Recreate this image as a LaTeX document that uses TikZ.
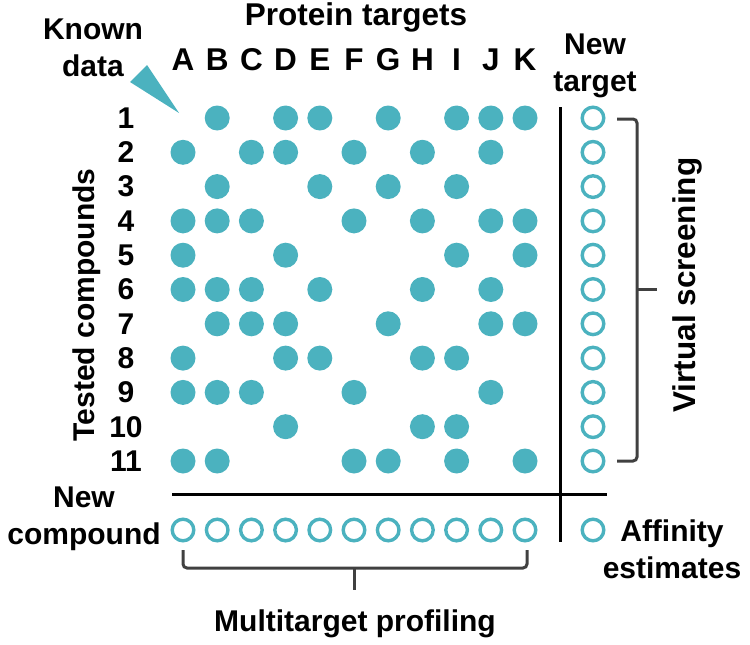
\documentclass[tikz,border=0pt]{standalone}
\usepackage{fontspec}
\setmainfont{Liberation Sans}
\usetikzlibrary{positioning,calc}
\definecolor{hitcol}{HTML}{4BB2BF}
\definecolor{bracecol}{HTML}{404040}
\tikzset{
  hitdot/.style={circle, fill=hitcol, minimum size=25pt, inner sep=0pt},
  opendot/.style={circle, draw=hitcol, line width=3.4pt, minimum size=21.6pt, inner sep=0pt},
  lbl/.style={inner sep=0pt, font=\bfseries\fontsize{30}{37}\selectfont},
  biglbl/.style={inner sep=0pt, font=\bfseries\fontsize{31.5}{37}\selectfont},
  rule/.style={line width=3pt},
  brace/.style={draw=bracecol, line width=3pt, rounded corners=4pt}
}

\begin{document}
\begin{tikzpicture}[x=1pt,y=-1pt]
\useasboundingbox (0,0) rectangle (750,645);
% known data matrix
\foreach \r/\cols in {1/{2,4,5,7,9,10,11},2/{1,3,4,6,8,10},3/{2,5,7,9},4/{1,2,3,6,8,10,11},5/{1,4,9,11},6/{1,2,3,5,8,10},7/{2,3,4,7,10,11},8/{1,4,5,8,9},9/{1,2,3,6,10},10/{4,8,9},11/{1,2,6,7,9,11}} {
  \foreach \c in \cols {
    \node[hitdot] (dot-\r-\c) at ({183+34.2*(\c-1)},{118+34.3*(\r-1)}) {};
  }
}
\foreach \l [count=\c] in {A,B,C,D,E,F,G,H,I,J,K}
  \node[biglbl] (col-\l) at ({183+34.2*(\c-1)},60) {\l};
\foreach \r in {1,...,11}
  \node[lbl] (row-\r) at (126,{118+34.3*(\r-1)}) {\r};
% new target and new compound
\foreach \r in {1,...,11}
  \node[opendot] (tgt-\r) at (593,{118+34.3*(\r-1)}) {};
\foreach \c in {1,...,11}
  \node[opendot] (cmp-\c) at ({183+34.2*(\c-1)},530) {};
\node[opendot] (aff) at (593,530) {};
% separators
\coordinate (vtop) at (560,107);
\coordinate (vbot) at (560,542);
\coordinate (hleft) at (172,494);
\coordinate (hright) at (607,494);
\draw[rule] (vtop) -- (vbot);
\draw[rule] (hleft) -- (hright);
% brackets
\draw[brace] ($(tgt-1)+(24,1)$) -| ($(tgt-11)+(44,0)$) -- ($(tgt-11)+(24,0)$);
\draw[brace] ($(tgt-6)+(44,0)$) -- ++(20,0);
\draw[brace] ($(cmp-1)+(0,20)$) |- ($(cmp-11)+(2,38)$) -- ($(cmp-11)+(2,20)$);
\draw[brace] ($(cmp-6)+(0,38)$) -- ++(0,22);
% pointer
\fill[hitcol] (130,82) -- (147,65) -- (179,113) -- cycle;
% labels
\node[biglbl] (title) at (356,17) {Protein targets};
\node[lbl, align=center] (known) at (93,48) {Known\\data};
\node[lbl, align=center] (newtgt) at (595,66) {New\\target};
\node[lbl, align=center] (newcmp) at (84,519) {New\\compound};
\node[lbl, align=center] (affest) at (672,549) {Affinity\\estimates};
\node[lbl, rotate=90] (tested) at (87,305) {Tested compounds};
\node[biglbl, rotate=90] (virtual) at (687,285) {Virtual screening};
\node[lbl] (multi) at (355,624) {Multitarget profiling};
\end{tikzpicture}
\end{document}
